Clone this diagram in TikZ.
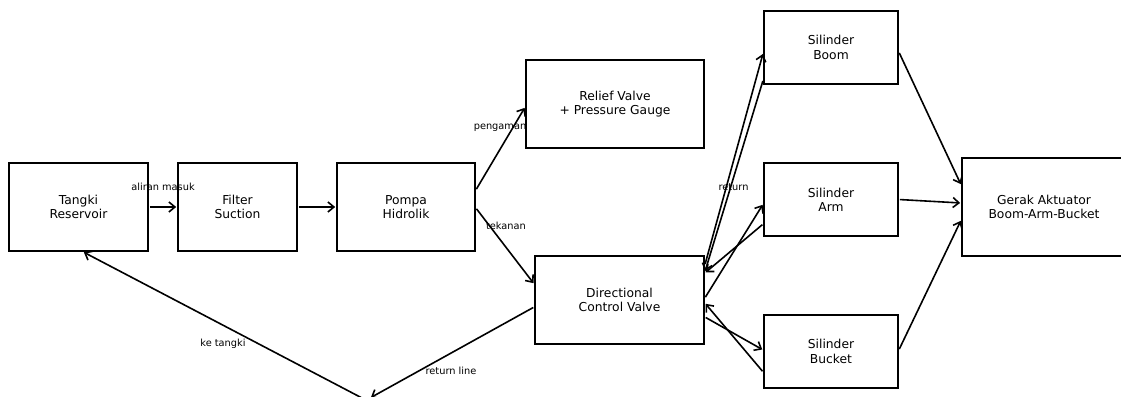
\documentclass[tikz,border=0pt]{standalone}
\usepackage{fontspec}
\setmainfont{DejaVu Sans}
\usetikzlibrary{arrows.meta}
\begin{document}
\begin{tikzpicture}[x=1pt,y=-1pt,
  box/.style={draw=black,line width=1.7pt,rectangle,inner sep=0pt,align=center,
    font=\fontsize{12.3}{14.3}\selectfont,text=black},
  lab/.style={inner sep=0pt,font=\fontsize{9.8}{12}\selectfont,text=black},
  conn/.style={line width=1.6pt,-{Straight Barb[length=6pt,width=10pt,line width=1.6pt]},shorten >=1pt,shorten <=1pt}]
\useasboundingbox (0,0) rectangle (1121,396);
\clip (0,0) rectangle (1121,396);
\node[box,minimum width=139pt,minimum height=88pt] (tangki) at (78.5,207) {Tangki\\Reservoir};
\node[box,minimum width=119pt,minimum height=88pt] (filter) at (237.5,207) {Filter\\Suction};
\node[box,minimum width=138pt,minimum height=88pt] (pompa) at (406,207) {Pompa\\Hidrolik};
\node[box,minimum width=178pt,minimum height=88pt] (relief) at (615,104) {Relief Valve\\+ Pressure Gauge};
\node[box,minimum width=169pt,minimum height=88pt] (dcv) at (619.5,300) {Directional\\Control Valve};
\node[box,minimum width=134pt,minimum height=73pt] (boom) at (831,47.5) {Silinder\\Boom};
\node[box,minimum width=134pt,minimum height=73pt] (arm) at (831,199.5) {Silinder\\Arm};
\node[box,minimum width=134pt,minimum height=73pt] (bucket) at (831,351.5) {Silinder\\Bucket};
\node[box,minimum width=164pt,minimum height=98pt] (gerak) at (1044,207) {Gerak Aktuator\\Boom-Arm-Bucket};
\coordinate (ret) at (366,398);

\draw[conn] (tangki.east) -- (filter.west);
\draw[conn] (filter.east) -- (pompa.west);
\draw[conn] ([yshift=17pt]pompa.east) -- ([yshift=-3pt]relief.west);
\draw[conn] ([yshift=-1pt]pompa.east) -- ([yshift=16pt]dcv.west);
\draw[conn] ([yshift=35pt]dcv.east) -- ([yshift=-5.5pt]boom.west);
\draw[conn] ([yshift=-32.5pt]boom.west) -- ([yshift=28pt]dcv.east);
\draw[conn] ([yshift=2pt]dcv.east) -- ([yshift=-4.5pt]arm.west);
\draw[conn] ([yshift=-24.5pt]arm.west) -- ([yshift=27pt]dcv.east);
\draw[conn] ([yshift=-17pt]dcv.east) -- ([yshift=1.5pt]bucket.west);
\draw[conn] ([yshift=-20.5pt]bucket.west) -- ([yshift=-3pt]dcv.east);
\draw[conn] ([yshift=-4.5pt]boom.east) -- ([yshift=22pt]gerak.west);
\draw[conn] (arm.east) -- ([yshift=4pt]gerak.west);
\draw[conn] ([yshift=1.5pt]bucket.east) -- ([yshift=-13pt]gerak.west);
\draw[conn] ([yshift=-7pt]dcv.west) -- ([xshift=4pt]ret);
\draw[conn] ([xshift=-4pt]ret) -- ([xshift=4.5pt]tangki.south);

\node[lab] (l1) at (163,187) {aliran masuk};
\node[lab] (l2) at (500,128) {pengaman};
\node[lab] (l3) at (506,226) {tekanan};
\node[lab] (l4) at (733.5,187) {return};
\node[lab] (l5) at (451,371) {return line};
\node[lab] (l6) at (223,344) {ke tangki};
\end{tikzpicture}
\end{document}
